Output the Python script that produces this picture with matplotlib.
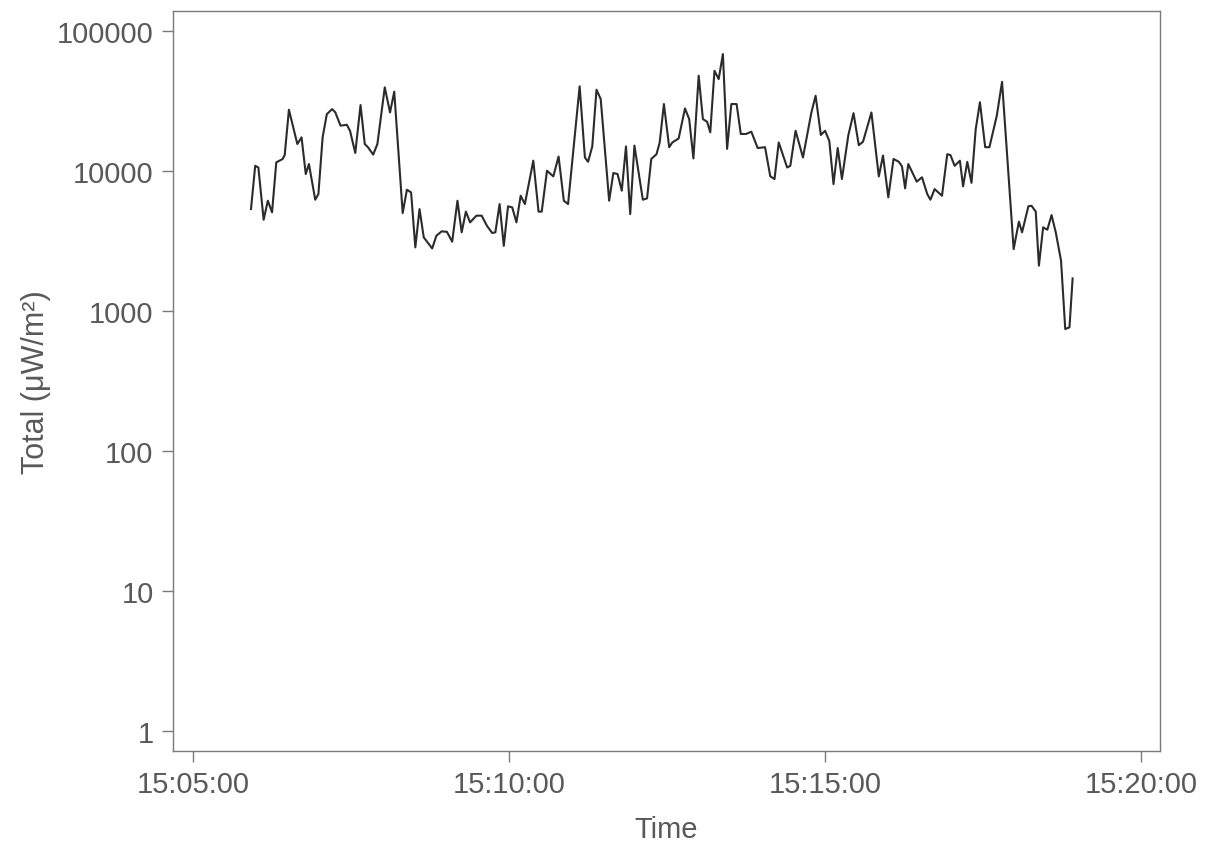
import matplotlib
matplotlib.use("Agg")
import matplotlib.pyplot as plt
import matplotlib.dates as mdates
import pandas as pd

times = [
    "15:05:55", "15:05:59", "15:06:02", "15:06:07", "15:06:11", "15:06:15", "15:06:19", "15:06:25",
    "15:06:27", "15:06:31", "15:06:39", "15:06:43", "15:06:47", "15:06:50", "15:06:56", "15:06:59",
    "15:07:03", "15:07:07", "15:07:12", "15:07:15", "15:07:20", "15:07:26", "15:07:29", "15:07:34",
    "15:07:39", "15:07:43", "15:07:46", "15:07:51", "15:07:55", "15:08:02", "15:08:07", "15:08:11",
    "15:08:19", "15:08:23", "15:08:27", "15:08:31", "15:08:35", "15:08:39", "15:08:47", "15:08:51",
    "15:08:56", "15:09:01", "15:09:06", "15:09:11", "15:09:15", "15:09:19", "15:09:23", "15:09:29",
    "15:09:34", "15:09:39", "15:09:44", "15:09:47", "15:09:51", "15:09:55", "15:09:59", "15:10:03",
    "15:10:07", "15:10:11", "15:10:15", "15:10:23", "15:10:28", "15:10:31", "15:10:36", "15:10:42",
    "15:10:47", "15:10:52", "15:10:56", "15:11:07", "15:11:12", "15:11:15", "15:11:19", "15:11:23",
    "15:11:27", "15:11:35", "15:11:39", "15:11:43", "15:11:47", "15:11:51", "15:11:55", "15:11:59",
    "15:12:07", "15:12:11", "15:12:15", "15:12:20", "15:12:23", "15:12:27", "15:12:32", "15:12:35",
    "15:12:41", "15:12:47", "15:12:51", "15:12:55", "15:13:00", "15:13:04", "15:13:08", "15:13:11",
    "15:13:15", "15:13:19", "15:13:23", "15:13:27", "15:13:31", "15:13:36", "15:13:40", "15:13:45",
    "15:13:50", "15:13:56", "15:14:03", "15:14:08", "15:14:12", "15:14:16", "15:14:24", "15:14:27",
    "15:14:32", "15:14:39", "15:14:47", "15:14:51", "15:14:56", "15:15:00", "15:15:04", "15:15:08",
    "15:15:12", "15:15:16", "15:15:22", "15:15:27", "15:15:32", "15:15:36", "15:15:44", "15:15:51",
    "15:15:55", "15:16:00", "15:16:05", "15:16:10", "15:16:13", "15:16:16", "15:16:19", "15:16:27",
    "15:16:32", "15:16:37", "15:16:40", "15:16:44", "15:16:51", "15:16:56", "15:16:59", "15:17:03",
    "15:17:08", "15:17:11", "15:17:15", "15:17:19", "15:17:23", "15:17:27", "15:17:32", "15:17:36",
    "15:17:43", "15:17:48", "15:17:59", "15:18:04", "15:18:07", "15:18:13", "15:18:16", "15:18:20",
    "15:18:23", "15:18:27", "15:18:31", "15:18:35", "15:18:39", "15:18:44", "15:18:48", "15:18:52",
    "15:18:55",
]

total = [
    5350, 10900, 10600, 4490, 6140, 5070, 11530, 12180,
    13010, 27400, 15600, 17400, 9520, 11220, 6240, 6850,
    17400, 25500, 27700, 26300, 21100, 21400, 19400, 13460,
    29600, 15600, 14800, 13100, 15600, 39600, 26200, 36900,
    5010, 7350, 7040, 2850, 5350, 3360, 2800, 3450,
    3710, 3680, 3130, 6140, 3650, 5130, 4300, 4800,
    4800, 4060, 3610, 3650, 5810, 2920, 5600, 5500,
    4300, 6660, 5810, 11860, 5130, 5130, 10050, 9160,
    12700, 6140, 5810, 40300, 12500, 11640, 15000, 38100,
    32700, 6140, 9680, 9520, 7240, 15000, 4930, 15200,
    6240, 6380, 12200, 13200, 16000, 30100, 14800, 16000,
    17100, 28000, 23500, 12300, 48000, 23500, 22500, 18900,
    52000, 45400, 68500, 14400, 30100, 30100, 18400, 18400,
    19100, 14600, 14800, 9160, 8770, 16000, 10600, 10900,
    19400, 12500, 26200, 34500, 18100, 19400, 16400, 8070,
    14600, 8770, 17900, 25900, 15300, 16200, 26200, 9160,
    12900, 6490, 12200, 11640, 10800, 7520, 11220, 8400,
    9020, 6850, 6240, 7430, 6660, 13200, 13000, 10900,
    11860, 7780, 11640, 8240, 19900, 31000, 14800, 14800,
    24800, 43400, 2770, 4350, 3650, 5600, 5650, 5130,
    2110, 3960, 3810, 4850, 3650, 2290, 744, 765,
    1710,
]

y_ticks = [1, 10, 100, 1000, 10000, 100000]
y_tick_labels = ["1", "10", "100", "1000", "10000", "100000"]
x_ticks = ["15:05:00", "15:10:00", "15:15:00", "15:20:00"]

plt.rcParams["font.family"] = ["Liberation Sans", "DejaVu Sans"]

day = "2020-01-01 "
t = pd.to_datetime([day + s for s in times])
xt = pd.to_datetime([day + s for s in x_ticks])

fig = plt.figure(figsize=(12.05, 8.53), dpi=100)
ax = fig.add_axes([0.1436, 0.1184, 0.8191, 0.8675])

ax.plot(t, total, color="#2b2b2b", linewidth=1.5)
ax.set_yscale("log")
ax.set_ylim(0.72, 139000)
ax.set_xlim(pd.Timestamp(day + "15:04:41"), pd.Timestamp(day + "15:20:18"))

ax.set_yticks(y_ticks)
ax.set_yticklabels(y_tick_labels)
ax.yaxis.set_minor_locator(matplotlib.ticker.NullLocator())
ax.set_xticks(xt)
ax.xaxis.set_major_formatter(mdates.DateFormatter("%H:%M:%S"))

grey = "#595959"
for sp in ax.spines.values():
    sp.set_color("#7a7a7a")
    sp.set_linewidth(1.0)
ax.tick_params(axis="both", which="major", length=8, width=1.0, color="#7a7a7a",
               labelcolor=grey, labelsize=21, pad=6)

ax.set_xlabel("Time", fontsize=21, color=grey, labelpad=12)
ax.set_ylabel("Total (μW/m²)", fontsize=22, color=grey, labelpad=4)

fig.savefig("out.png", dpi=100)
